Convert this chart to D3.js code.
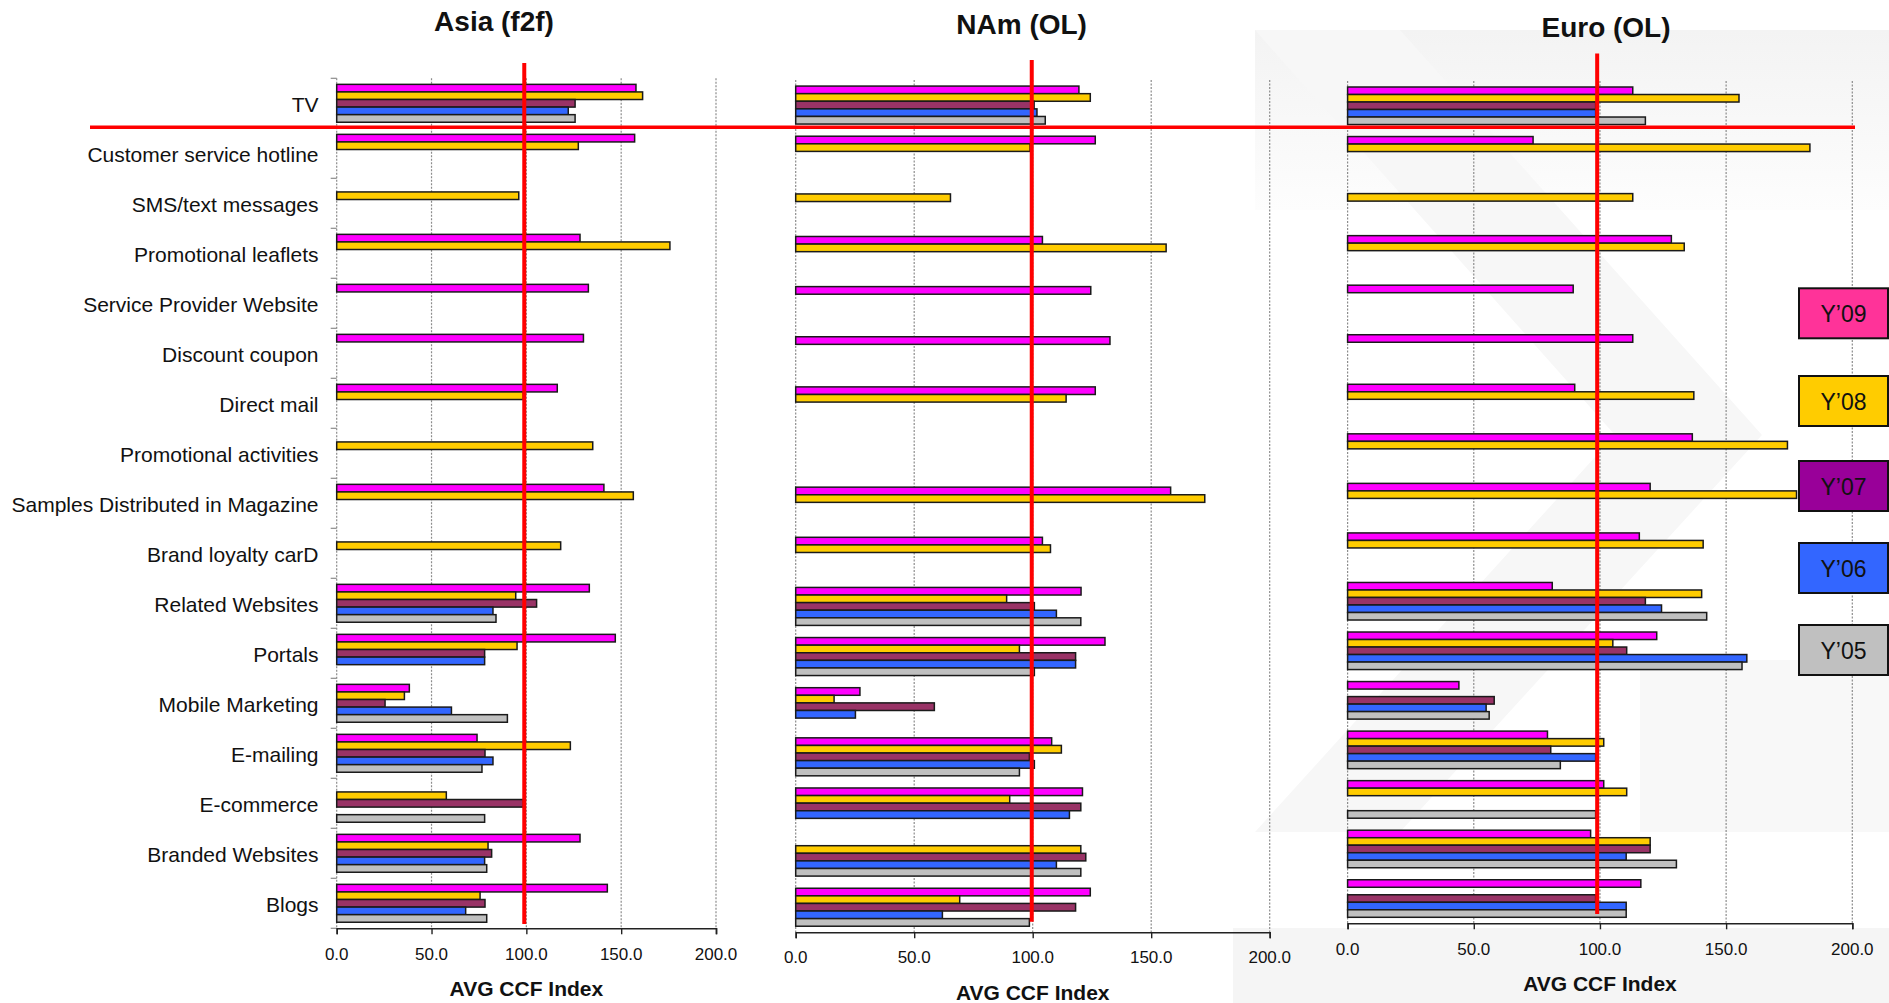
<!DOCTYPE html>
<html>
<head>
<meta charset="utf-8">
<script src="https://cdn.jsdelivr.net/npm/d3@7"></script>
<style>
  html, body { margin: 0; padding: 0; background: #fff; }
  svg { display: block; font-family: "Liberation Sans", Arial, sans-serif; }
</style>
</head>
<body>
<svg id="chart" width="1889" height="1003"></svg>
<script>
// ---- data -------------------------------------------------------------
const categories = [
  "TV", "Customer service hotline", "SMS/text messages", "Promotional leaflets",
  "Service Provider Website", "Discount coupon", "Direct mail", "Promotional activities",
  "Samples Distributed in Magazine", "Brand loyalty carD", "Related Websites", "Portals",
  "Mobile Marketing", "E-mailing", "E-commerce", "Branded Websites", "Blogs"
];
const seriesNames = ["Y’09", "Y’08", "Y’07", "Y’06", "Y’05"];
const xTickValues = [0, 50, 100, 150, 200];
const regionTitles = ["Asia (f2f)", "NAm (OL)", "Euro (OL)"];
const axisTitle = "AVG CCF Index";
const referenceLevel = [98.9, 99.6, 98.9];

// Asia (f2f)
const asiaY09 = [157.8, 157.1, null, 128.3, 132.7, 130.1, 116.3, null, 140.9, null, 133.2, 146.9, 38.3, 74.0, null, 128.3, 142.7];
const asiaY08 = [161.3, 127.4, 96.0, 175.7, null, null, 98.4, 135.0, 156.4, 118.1, 94.4, 95.1, 35.7, 123.2, 57.8, 79.8, 75.6];
const asiaY07 = [125.7, null, null, null, null, null, null, null, null, null, 105.4, 78.0, 25.5, 78.2, 98.4, 81.7, 78.2];
const asiaY06 = [122.1, null, null, null, null, null, null, null, null, null, 82.4, 78.0, 60.5, 82.4, null, 78.0, 68.0];
const asiaY05 = [125.7, null, null, null, null, null, null, null, null, null, 84.0, null, 90.0, 76.6, 78.0, 79.1, 79.1];

// NAm (OL)
const namY09 = [119.5, 126.4, null, 104.1, 124.5, 132.6, 126.4, null, 158.2, 104.1, 120.4, 130.5, 27.1, 108.0, 121.0, null, 124.3];
const namY08 = [124.3, 98.9, 65.3, 156.3, null, null, 114.1, null, 172.6, 107.5, 89.0, 94.4, 16.2, 112.1, 90.3, 120.3, 69.2];
const namY07 = [100.6, null, null, null, null, null, null, null, null, null, 100.7, 118.1, 58.5, 98.6, 120.3, 122.4, 118.1];
const namY06 = [101.8, null, null, null, null, null, null, null, null, null, 110.0, 118.1, 25.2, 100.7, 115.5, 110.0, 61.9];
const namY05 = [105.3, null, null, null, null, null, null, null, null, null, 120.3, 100.7, null, 94.4, null, 120.3, 98.6];

// Euro (OL)
const euroY09 = [113.0, 73.5, null, 128.3, 89.4, 113.0, 90.0, 136.6, 119.9, 115.6, 81.1, 122.5, 44.1, 79.2, 101.5, 96.3, 116.2];
const euroY08 = [155.1, 183.2, 113.0, 133.4, null, null, 137.2, 174.3, 177.9, 140.9, 140.3, 105.1, null, 101.5, 110.6, 119.9, null];
const euroY07 = [98.3, null, null, null, null, null, null, null, null, null, 118.0, 110.6, 58.1, 80.5, null, 119.9, 98.3];
const euroY06 = [98.3, null, null, null, null, null, null, null, null, null, 124.4, 158.2, 54.9, 98.3, null, 110.4, 110.4];
const euroY05 = [118.0, null, null, null, null, null, null, null, null, null, 142.3, 156.3, 56.1, 84.3, 98.3, 130.3, 110.4];

// ---- styling / layout ------------------------------------------------
const barColors = ["#FF00FF", "#FFCC00", "#993366", "#3366FF", "#C0C0C0"];
const legendColors = ["#FF3399", "#FFCC00", "#990099", "#3366FF", "#C0C0C0"];

const regionSeries = [
  [asiaY09, asiaY08, asiaY07, asiaY06, asiaY05],
  [namY09, namY08, namY07, namY06, namY05],
  [euroY09, euroY08, euroY07, euroY06, euroY05]
];

const panelLayout = [
  { left: 336.7, right: 716.0, top: 78.3, bottom: 928.3, titleX: 494, titleY: 31, tickY: 960, axisTitleY: 996, refTop: 63, refBottom: 924, yTicks: true },
  { left: 795.7, right: 1269.7, top: 80.0, bottom: 932.3, titleX: 1021.6, titleY: 33.5, tickY: 963, axisTitleY: 1000, refTop: 60, refBottom: 921.7, yTicks: false },
  { left: 1347.6, right: 1852.3, top: 81.0, bottom: 923.3, titleX: 1606, titleY: 36.5, tickY: 955, axisTitleY: 990.5, refTop: 53.5, refBottom: 914, yTicks: false }
];

const svg = d3.select("#chart");

// ---- faint background logo shape ---------------------------------------
const bg = svg.append("g").attr("class", "backdrop");
const grad = svg.append("defs").append("linearGradient")
  .attr("id", "bandFade").attr("x1", 0).attr("y1", 0).attr("x2", 0).attr("y2", 1);
grad.append("stop").attr("offset", "0%").attr("stop-color", "#f3f3f3");
grad.append("stop").attr("offset", "100%").attr("stop-color", "#fdfdfd");
bg.append("rect").attr("x", 1255).attr("y", 30).attr("width", 634).attr("height", 180).attr("fill", "url(#bandFade)");
bg.append("polygon")
  .attr("points", [[1255, 30], [1400, 30], [1762, 435], [1400, 832], [1255, 832], [1615, 435]].map(p => p.join(",")).join(" "))
  .attr("fill", "#f7f7f7");
bg.append("rect").attr("x", 1640).attr("y", 660).attr("width", 249).attr("height", 172).attr("fill", "#f8f8f8");
bg.append("rect").attr("x", 1233).attr("y", 928).attr("width", 656).attr("height", 75).attr("fill", "#f5f5f5");

// ---- panels --------------------------------------------------------------
const yScales = [];

panelLayout.forEach((L, pi) => {
  const g = svg.append("g").attr("class", "panel");
  const x = d3.scaleLinear().domain([0, 200]).range([L.left, L.right]);
  const y = d3.scaleBand().domain(categories).range([L.top, L.bottom]).paddingInner(0).paddingOuter(0);
  const ySub = d3.scaleBand().domain(seriesNames).range([0, y.bandwidth()]).paddingInner(0).paddingOuter(0.8);
  yScales.push(y);

  // dotted vertical gridlines
  g.append("g").selectAll("line").data(xTickValues).join("line")
    .attr("x1", d => x(d)).attr("x2", d => x(d))
    .attr("y1", L.top).attr("y2", L.bottom)
    .attr("stroke", "#8c8c8c").attr("stroke-width", 1.2).attr("stroke-dasharray", "2,1.5");

  // category ticks and labels on the left edge (first panel only)
  if (L.yTicks) {
    const bounds = categories.map(c => y(c)).concat([L.bottom]);
    g.append("g").selectAll("line").data(bounds).join("line")
      .attr("x1", L.left - 6).attr("x2", L.left)
      .attr("y1", d => d).attr("y2", d => d)
      .attr("stroke", "#8c8c8c").attr("stroke-width", 1.2);

    g.append("g").selectAll("text").data(categories).join("text")
      .attr("x", 318.5)
      .attr("y", d => y(d) + y.bandwidth() / 2 + 9)
      .attr("text-anchor", "end")
      .attr("font-size", 21)
      .attr("fill", "#111")
      .text(d => d);
  }

  // bars
  const rows = [];
  regionSeries[pi].forEach((vals, si) => {
    vals.forEach((v, ci) => {
      if (v != null) rows.push({ cat: categories[ci], series: seriesNames[si], si, v });
    });
  });
  g.append("g").selectAll("rect").data(rows).join("rect")
    .attr("x", x(0))
    .attr("y", d => y(d.cat) + ySub(d.series))
    .attr("width", d => x(d.v) - x(0))
    .attr("height", ySub.bandwidth())
    .attr("fill", d => barColors[d.si])
    .attr("stroke", "#1a1a1a")
    .attr("stroke-width", 1.5);

  // x axis
  const axis = d3.axisBottom(x).tickValues(xTickValues).tickSize(6).tickFormat(() => "");
  const ax = g.append("g").attr("transform", `translate(0,${L.bottom})`).call(axis);
  ax.select(".domain").attr("stroke", "#222").attr("stroke-width", 1.6);
  ax.selectAll(".tick line").attr("stroke", "#222").attr("stroke-width", 1.4);

  g.append("g").selectAll("text").data(xTickValues).join("text")
    .attr("x", d => x(d))
    .attr("y", L.tickY)
    .attr("text-anchor", "middle")
    .attr("font-size", 17)
    .attr("fill", "#111")
    .text(d3.format(".1f"));

  g.append("text")
    .attr("x", (L.left + L.right) / 2)
    .attr("y", L.axisTitleY)
    .attr("text-anchor", "middle")
    .attr("font-size", 21)
    .attr("font-weight", "bold")
    .attr("fill", "#111")
    .text(axisTitle);

  // panel title
  g.append("text")
    .attr("x", L.titleX)
    .attr("y", L.titleY)
    .attr("text-anchor", "middle")
    .attr("font-size", 28)
    .attr("font-weight", "bold")
    .attr("fill", "#111")
    .text(regionTitles[pi]);

  // red reference line at the index level
  g.append("line")
    .attr("x1", x(referenceLevel[pi])).attr("x2", x(referenceLevel[pi]))
    .attr("y1", L.refTop).attr("y2", L.refBottom)
    .attr("stroke", "#FF0000").attr("stroke-width", 4);
});

// red divider under the TV row, spanning all panels
const dividerY = yScales[0](categories[1]) - 1;
svg.append("line")
  .attr("x1", 90).attr("x2", 1855)
  .attr("y1", dividerY).attr("y2", dividerY)
  .attr("stroke", "#FF0000").attr("stroke-width", 3.6);

// ---- legend --------------------------------------------------------------
const legendTops = [288.3, 376, 461, 543, 625];
const legend = svg.append("g").attr("class", "legend");
const lg = legend.selectAll("g").data(seriesNames).join("g")
  .attr("transform", (d, i) => `translate(1799,${legendTops[i]})`);
lg.append("rect")
  .attr("width", 89).attr("height", 50)
  .attr("fill", (d, i) => legendColors[i])
  .attr("stroke", "#111").attr("stroke-width", 2);
lg.append("text")
  .attr("x", 44.5).attr("y", 34)
  .attr("text-anchor", "middle")
  .attr("font-size", 23)
  .attr("fill", "#111")
  .text(d => d);
</script>
</body>
</html>
